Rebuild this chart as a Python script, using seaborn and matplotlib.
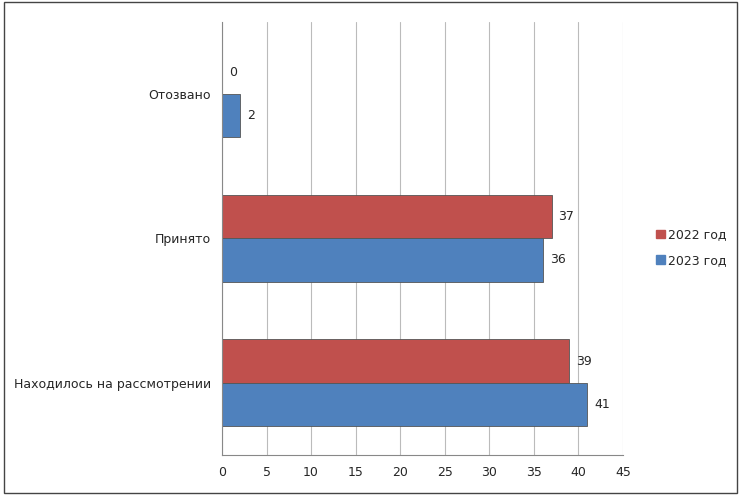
import matplotlib
matplotlib.use("Agg")
import matplotlib.pyplot as plt
import pandas as pd
import seaborn as sns
from matplotlib.patches import Rectangle

categories = ["Отозвано", "Принято", "Находилось на рассмотрении"]
values_2022 = [0, 37, 39]
values_2023 = [2, 36, 41]
series = ["2022 год", "2023 год"]
colors = ["#C0504D", "#4F81BD"]

df = pd.DataFrame({
    "cat": categories * 2,
    "val": values_2022 + values_2023,
    "year": [series[0]] * 3 + [series[1]] * 3,
})

sns.set_style("white")
plt.rcParams["font.family"] = "DejaVu Sans"
fig = plt.figure(figsize=(7.41, 4.95), dpi=100)
ax = fig.add_axes([0.2996, 0.081, 0.541, 0.875])

sns.barplot(data=df, x="val", y="cat", hue="year", palette=colors,
            orient="h", width=0.6, edgecolor="#555555", linewidth=0.6,
            saturation=1, ax=ax, legend=False)

for cont in ax.containers:
    ax.bar_label(cont, padding=5, fontsize=9)

ax.set_xlim(0, 45)
ax.set_xticks(range(0, 50, 5))
ax.set_xlabel("")
ax.set_ylabel("")
ax.grid(axis="x", color="#BBBBBB", linewidth=0.8)
ax.set_axisbelow(True)
for s in ["top", "right"]:
    ax.spines[s].set_visible(False)
ax.spines["left"].set_color("#888888")
ax.spines["bottom"].set_color("#888888")
ax.tick_params(axis="both", labelsize=9, length=0)
ax.tick_params(axis="x", pad=8)
ax.tick_params(axis="y", pad=8)

handles = [Rectangle((0, 0), 1, 1, color=c) for c in colors]
fig.legend(handles, series, loc="center left", bbox_to_anchor=(0.87, 0.5),
           frameon=False, fontsize=9, handlelength=0.7, handleheight=0.7,
           labelspacing=1.0, handletextpad=0.3)

fig.patches.append(Rectangle((0.005, 0.005), 0.99, 0.99, transform=fig.transFigure,
                             fill=False, edgecolor="#444444", linewidth=1))
fig.savefig("out.png", dpi=100)
